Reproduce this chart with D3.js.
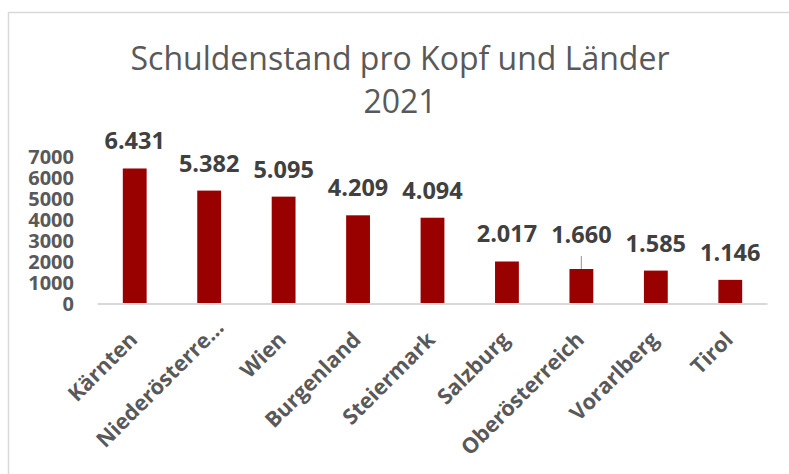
<!DOCTYPE html>
<html>
<head>
<meta charset="utf-8">
<script src="https://cdn.jsdelivr.net/npm/d3@7"></script>
<style>
  body { margin: 0; background: #fff; }
  svg { display: block; font-family: "Open Sans", sans-serif; }
</style>
</head>
<body>
<svg id="chart"></svg>
<script>
// data
const categories = ["Kärnten", "Niederösterreich", "Wien", "Burgenland", "Steiermark",
    "Salzburg", "Oberösterreich", "Vorarlberg", "Tirol"];
const values = [6431, 5382, 5095, 4209, 4094, 2017, 1660, 1585, 1146];
const yTicks = [0, 1000, 2000, 3000, 4000, 5000, 6000, 7000];
const titleLines = ["Schuldenstand pro Kopf und Länder", "2021"];

function DrawBarChart(targetElem, width, height) {
    const svg = d3.select(targetElem)
        .attr("width", width)
        .attr("height", height);

    svg.selectAll("*").remove();

    // chart frame
    svg.append("rect")
        .attr("x", 8.5).attr("y", 12.5)
        .attr("width", width + 20).attr("height", height + 20)
        .attr("fill", "#fff")
        .attr("stroke", "#d9d9d9")
        .attr("stroke-width", 1.5);

    // title
    svg.append("g").selectAll("text")
        .data(titleLines)
        .enter()
        .append("text")
        .attr("x", 400)
        .attr("y", (d, i) => 70 + i * 43)
        .attr("text-anchor", "middle")
        .attr("font-size", 32)
        .attr("fill", "#595959")
        .text(d => d);

    const x = d3.scaleBand()
        .domain(categories)
        .range([97.5, 767.5])
        .paddingInner(0.68)
        .paddingOuter(0.34);

    const y = d3.scaleLinear()
        .domain([0, 7000])
        .range([304, 156.5]);

    const de = d3.formatLocale({ decimal: ",", thousands: ".", grouping: [3], currency: ["", "€"] });
    const fmt = de.format(",d");

    // y axis labels
    svg.append("g").selectAll("text")
        .data(yTicks)
        .enter()
        .append("text")
        .attr("x", 74)
        .attr("y", d => y(d))
        .attr("dy", "0.36em")
        .attr("text-anchor", "end")
        .attr("font-size", 20)
        .attr("font-weight", "bold")
        .attr("fill", "#595959")
        .text(d => d);

    // bars
    svg.append("g").selectAll("rect")
        .data(values)
        .enter()
        .append("rect")
        .attr("x", (d, i) => x(categories[i]))
        .attr("y", d => y(d))
        .attr("width", x.bandwidth())
        .attr("height", d => y(0) - y(d))
        .attr("fill", "#990000");

    // baseline
    svg.append("line")
        .attr("x1", x.range()[0]).attr("x2", x.range()[1])
        .attr("y1", y(0)).attr("y2", y(0))
        .attr("stroke", "#d9d9d9")
        .attr("stroke-width", 2);

    // value labels, Oberösterreich one was dragged up with a leader line
    const lift = { "Oberösterreich": 7 };
    const cx = i => x(categories[i]) + x.bandwidth() / 2;

    svg.append("g").selectAll("line")
        .data(values.map((v, i) => ({ v, i })).filter(d => lift[categories[d.i]]))
        .enter()
        .append("line")
        .attr("x1", d => cx(d.i)).attr("x2", d => cx(d.i))
        .attr("y1", d => y(d.v) - 13).attr("y2", d => y(d.v))
        .attr("stroke", "#a6a6a6")
        .attr("stroke-width", 1.2);

    svg.append("g").selectAll("text")
        .data(values)
        .enter()
        .append("text")
        .attr("x", (d, i) => cx(i))
        .attr("y", (d, i) => y(d) - 19 - (lift[categories[i]] || 0))
        .attr("text-anchor", "middle")
        .attr("font-size", 23.5)
        .attr("font-weight", "bold")
        .attr("fill", "#404040")
        .text(d => fmt(d));

    // category labels, rotated
    const maxLen = 13;
    svg.append("g").selectAll("text")
        .data(categories)
        .enter()
        .append("text")
        .attr("transform", (d, i) => `translate(${cx(i) + 4}, ${y(0) + 37}) rotate(-45)`)
        .attr("x", d => d.length > maxLen + 2 ? 17 : 0)
        .attr("text-anchor", "end")
        .attr("font-size", 21.5)
        .attr("font-weight", "bold")
        .attr("fill", "#595959")
        .text(d => d.length > maxLen + 2 ? d.slice(0, maxLen) + "..." : d);
}

DrawBarChart("#chart", 789, 474);
</script>
</body>
</html>
